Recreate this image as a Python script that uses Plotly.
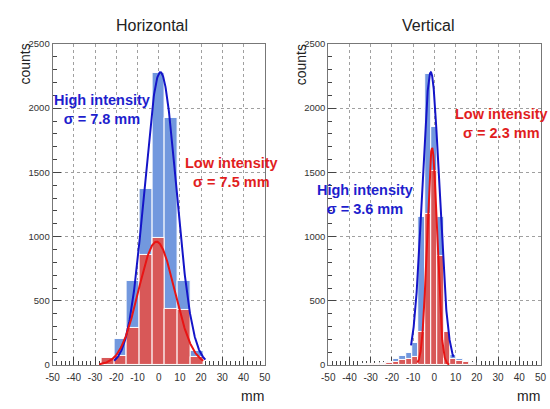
import numpy as np
import plotly.graph_objects as go

# ---------------- data ----------------
h_centers = [-24, -18, -12, -6, 0, 6, 12, 18]
h_high = [0, 205, 656, 1369, 2273, 1922, 656, 113]
h_low = [58, 72, 288, 854, 990, 435, 430, 62]

v_centers = [-33, -30, -27, -24, -21, -18, -15, -12, -9, -6, -3, 0, 3, 6, 9, 12, 15, 18]
v_high = [5, 8, 12, 18, 28, 45, 70, 95, 170, 1150, 2270, 1850, 1150, 165, 75, 50, 35, 15]
v_low = [4, 6, 8, 12, 18, 28, 40, 50, 60, 258, 1180, 1508, 850, 258, 45, 35, 25, 10]

h_binwidth = 6
v_binwidth = 3

# Gaussian fit parameters: amplitude, mean, sigma, fit range
h_high_fit = (2280, 0.8, 7.5, -21, 22)
h_low_fit = (960, -1.0, 8.5, -28, 21)
v_high_fit = (2280, -1.7, 4.0, -11, 9)
v_low_fit = (1690, -1.1, 2.3, -8, 7)

x_tickvals = [-50, -40, -30, -20, -10, 0, 10, 20, 30, 40, 50]
x_ticktext = ["-50", "-40", "-30", "-20", "-10", "0", "10", "20", "30", "40", "50"]
y_tickvals = [0, 500, 1000, 1500, 2000, 2500]

titles = ["Horizontal", "Vertical"]
fit_labels = [
    ("High intensity", "σ = 7.8 mm"),
    ("Low intensity", "σ = 7.5 mm"),
    ("Low intensity", "σ = 2.3 mm"),
    ("High intensity", "σ = 3.6 mm"),
]

# ---------------- style ----------------
BLUE_FILL = "rgb(114,152,222)"
RED_FILL = "rgb(216,88,88)"
BLUE_LINE = "rgb(20,20,200)"
RED_LINE = "rgb(232,20,20)"
BLUE_TXT = "rgb(30,30,205)"
RED_TXT = "rgb(225,30,30)"
FONT = "Liberation Sans, Arial, sans-serif"

W, H = 550, 409


def px(x):
    return x / W


def py(y):
    return 1 - y / H


def gauss(params):
    a, m, s, lo, hi = params
    xs = np.linspace(lo, hi, 300)
    return xs, a * np.exp(-0.5 * ((xs - m) / s) ** 2)


fig = go.Figure()

panels = [
    (h_centers, h_high, h_low, h_binwidth, h_high_fit, h_low_fit, "x", "y"),
    (v_centers, v_high, v_low, v_binwidth, v_high_fit, v_low_fit, "x2", "y2"),
]
for cx, hi, lo, bw, fhi, flo, xa, ya in panels:
    fig.add_trace(go.Bar(x=cx, y=hi, width=bw, marker=dict(color=BLUE_FILL, line=dict(color="white", width=1)),
                         xaxis=xa, yaxis=ya, showlegend=False))
    fig.add_trace(go.Bar(x=cx, y=lo, width=bw, marker=dict(color=RED_FILL, line=dict(color="white", width=1)),
                         xaxis=xa, yaxis=ya, showlegend=False))
    xs, ys = gauss(fhi)
    fig.add_trace(go.Scatter(x=xs, y=ys, mode="lines", line=dict(color=BLUE_LINE, width=2),
                             xaxis=xa, yaxis=ya, showlegend=False))
    xs, ys = gauss(flo)
    fig.add_trace(go.Scatter(x=xs, y=ys, mode="lines", line=dict(color=RED_LINE, width=2),
                             xaxis=xa, yaxis=ya, showlegend=False))

xax = dict(range=[-50, 50], tickvals=x_tickvals, ticktext=x_ticktext, ticks="inside", ticklen=8,
           tickcolor="#444", minor=dict(ticks="inside", dtick=2, ticklen=4, tickcolor="#444", showgrid=False),
           showgrid=True, gridcolor="#a0a0a0", griddash="dot", gridwidth=1, zeroline=False,
           showline=True, mirror=True, linecolor="#777", linewidth=1, ticklabelstandoff=3,
           tickfont=dict(family=FONT, size=10, color="#333"), layer="below traces", fixedrange=True)
yax = dict(range=[0, 2500], tickvals=y_tickvals, ticks="inside", ticklen=8, tickcolor="#444",
           minor=dict(ticks="inside", dtick=100, ticklen=4, tickcolor="#444", showgrid=False),
           showgrid=True, gridcolor="#a0a0a0", griddash="dot", gridwidth=1, zeroline=False,
           showline=True, mirror=True, linecolor="#777", linewidth=1,
           tickfont=dict(family=FONT, size=9.5, color="#333"), layer="below traces", fixedrange=True)

ydom = [py(369), py(39)]
fig.update_layout(
    width=W, height=H, margin=dict(l=0, r=0, t=0, b=0),
    paper_bgcolor="white", plot_bgcolor="white", barmode="overlay", bargap=0,
    xaxis=dict(xax, domain=[px(46.7), px(264)], anchor="y"),
    yaxis=dict(yax, domain=ydom, anchor="x"),
    xaxis2=dict(xax, domain=[px(329), px(546.5)], anchor="y2"),
    yaxis2=dict(yax, domain=ydom, anchor="x2"),
)

ann = []


def txt(x, y, s, size, color, xanchor="center", bold=False, angle=0, yanchor="middle"):
    ann.append(dict(x=px(x), y=py(y), xref="paper", yref="paper", text=(f"<b>{s}</b>" if bold else s),
                    showarrow=False, xanchor=xanchor, yanchor=yanchor, textangle=angle, borderpad=0,
                    align="center", font=dict(family=FONT, size=size, color=color)))


# panel titles
txt(148, 20, titles[0], 16, "#222")
txt(431, 20, titles[1], 16, "#222")
# axis titles
txt(18.5, 38, "counts", 14, "#222", angle=-90, yanchor="top")
txt(302, 38, "counts", 14, "#222", angle=-90, yanchor="top")
txt(264, 401, "mm", 14, "#222", xanchor="right")
txt(547, 401, "mm", 14, "#222", xanchor="right")
# fit labels (two-line blocks)
label_pos = [(97.5, 106, BLUE_TXT), (229.5, 171, RED_TXT), (506.5, 121, RED_TXT), (366.5, 199, BLUE_TXT)]
for (l1, l2), (x, y, c) in zip(fit_labels, label_pos):
    txt(x, y, f"{l1}<br>{l2}", 14.5, c, bold=True)

fig.update_layout(annotations=ann)
fig.write_html("out.html")
